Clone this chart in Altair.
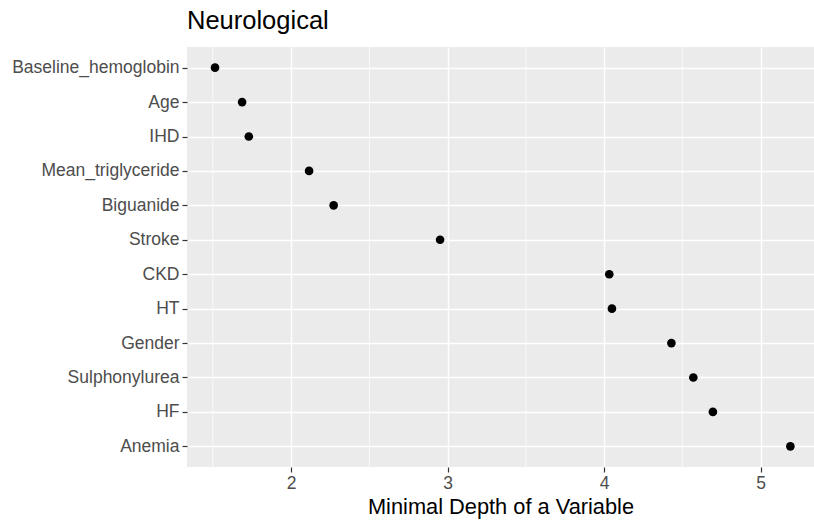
import altair as alt
import pandas as pd

variables = ["Baseline_hemoglobin", "Age", "IHD", "Mean_triglyceride", "Biguanide",
             "Stroke", "CKD", "HT", "Gender", "Sulphonylurea", "HF", "Anemia"]
min_depth = [1.514, 1.687, 1.730, 2.115, 2.272, 2.952, 4.033, 4.050, 4.430, 4.570, 4.695, 5.190]
x_major = [2, 3, 4, 5]
x_minor = [1.5, 2.5, 3.5, 4.5]

df = pd.DataFrame({"variable": variables, "depth": min_depth})
minor_df = pd.DataFrame({"depth": x_minor})

xscale = alt.Scale(domain=[1.335, 5.341], nice=False, zero=False)
xaxis = alt.Axis(values=x_major, title="Minimal Depth of a Variable",
                 grid=True, gridColor="white", gridWidth=1.4,
                 domain=False, ticks=True, tickSize=5, tickColor="#333333",
                 tickWidth=1.2, labelColor="#4D4D4D", labelFontSize=17.5,
                 labelPadding=2, titleFontSize=21.8, titleFontWeight="normal",
                 titleColor="black", titlePadding=5, labelFont="Liberation Sans",
                 titleFont="Liberation Sans")

minor = alt.Chart(minor_df).mark_rule(color="white", strokeWidth=0.7).encode(
    x=alt.X("depth:Q", scale=xscale, axis=xaxis)
)

points = alt.Chart(df).mark_circle(color="black", opacity=1, size=75).encode(
    x=alt.X("depth:Q", scale=xscale, axis=xaxis),
    y=alt.Y("variable:N", sort=variables,
            scale=alt.Scale(type="point", padding=0.6),
            axis=alt.Axis(title=None, grid=True, gridColor="white", gridWidth=1.4,
                          domain=False, ticks=True, tickSize=5, tickColor="#333333",
                          tickWidth=1.2, labelColor="#4D4D4D", labelFontSize=17.5,
                          labelPadding=3, labelFont="Liberation Sans", labelLimit=400)),
)

chart = alt.layer(minor, points).properties(
    width=627, height=420,
    title=alt.TitleParams("Neurological", anchor="start", frame="group", fontSize=25.5,
                          font="Liberation Sans", fontWeight="normal", color="black",
                          offset=12),
    autosize=alt.AutoSizeParams(type="none"),
    padding={"left": 187, "top": 47, "right": 0, "bottom": 57},
).configure(background="white").configure_view(fill="#EBEBEB", stroke=None)

chart.save("out.html", embed_options={"renderer": "svg", "actions": False})
